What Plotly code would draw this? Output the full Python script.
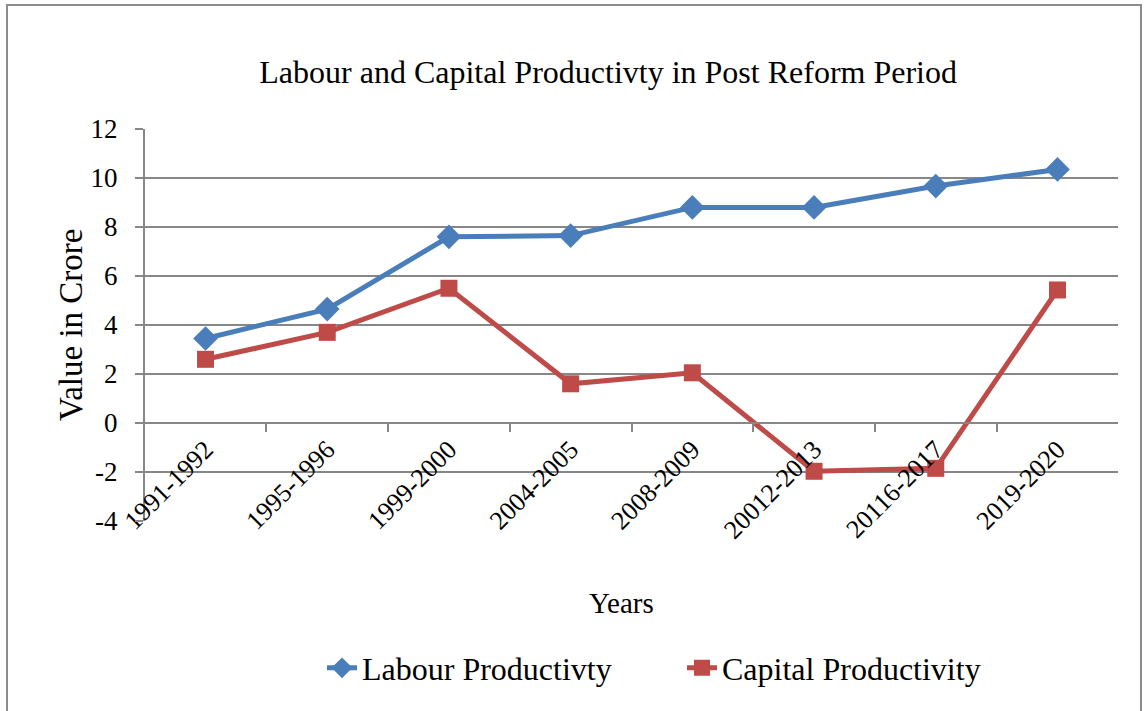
import plotly.graph_objects as go

# Period labels and productivity series (value in crore)
periods = ["1991-1992", "1995-1996", "1999-2000", "2004-2005",
           "2008-2009", "20012-2013", "20116-2017", "2019-2020"]
labour_productivity = [3.45, 4.65, 7.6, 7.65, 8.8, 8.8, 9.67, 10.35]
capital_productivity = [2.6, 3.7, 5.5, 1.6, 2.05, -1.97, -1.85, 5.43]
y_ticks = [-4, -2, 0, 2, 4, 6, 8, 10, 12]
y_tick_text = [str(v) for v in y_ticks]

FONT = "Liberation Serif"
GRID = "#878787"

fig = go.Figure()
fig.add_trace(go.Scatter(
    x=periods, y=labour_productivity, name="Labour Productivty",
    mode="lines+markers",
    line=dict(color="#4A7EBB", width=5),
    marker=dict(symbol="diamond", size=19, color="#4A7EBB"),
))
fig.add_trace(go.Scatter(
    x=periods, y=capital_productivity, name="Capital Productivity",
    mode="lines+markers",
    line=dict(color="#BE4B48", width=5),
    marker=dict(symbol="square", size=17, color="#BE4B48"),
))

fig.update_layout(
    width=1144, height=711,
    margin=dict(l=145, r=26, t=129, b=190),
    paper_bgcolor="white", plot_bgcolor="white",
    font=dict(family=FONT, color="black"),
    title=dict(text="Labour and Capital Productivty in Post Reform Period",
               font=dict(size=32, family=FONT, color="black"),
               x=0.476, xref="paper", xanchor="center",
               y=1 - 72 / 711, yref="container", yanchor="middle"),
    showlegend=True,
    legend=dict(orientation="h", x=(322 - 145) / 973, xanchor="left",
                y=-0.375, yanchor="middle",
                font=dict(size=32, family=FONT),
                entrywidth=315, entrywidthmode="pixels",
                bgcolor="rgba(0,0,0,0)"),
    xaxis=dict(
        type="category", anchor="free", position=0.25,
        showgrid=False, showline=True, linecolor=GRID, linewidth=2,
        ticks="outside", tickson="boundaries", ticklen=8,
        tickcolor=GRID, tickwidth=2,
        tickangle=-45, tickfont=dict(size=26, family=FONT),
        zeroline=False,
    ),
    yaxis=dict(
        range=[-4, 12], tickvals=y_ticks, ticktext=y_tick_text,
        showgrid=True, gridcolor=GRID, gridwidth=2,
        showline=True, linecolor=GRID, linewidth=2,
        ticks="outside", ticklen=8, tickcolor=GRID, tickwidth=2,
        tickfont=dict(size=27, family=FONT),
        ticklabelstandoff=12,
        zeroline=False,
    ),
    annotations=[
        dict(text="Years", xref="paper", yref="paper",
             x=(621 - 145) / 973, y=(521 - 603) / 392,
             xanchor="center", yanchor="middle",
             showarrow=False, font=dict(size=29, family=FONT)),
        dict(text="Value in Crore", xref="paper", yref="paper",
             x=(71 - 145) / 973, y=(521 - 325) / 392, textangle=-90,
             xanchor="center", yanchor="middle",
             showarrow=False, font=dict(size=33, family=FONT)),
    ],
    shapes=[
        dict(type="rect", xref="paper", yref="paper",
             x0=(7 - 145) / 973, x1=(1141 - 145) / 973,
             y0=(521 - 720) / 392, y1=(521 - 5) / 392,
             line=dict(color="#8C8C8C", width=2), layer="below"),
    ],
)

fig.write_html("out.html")
